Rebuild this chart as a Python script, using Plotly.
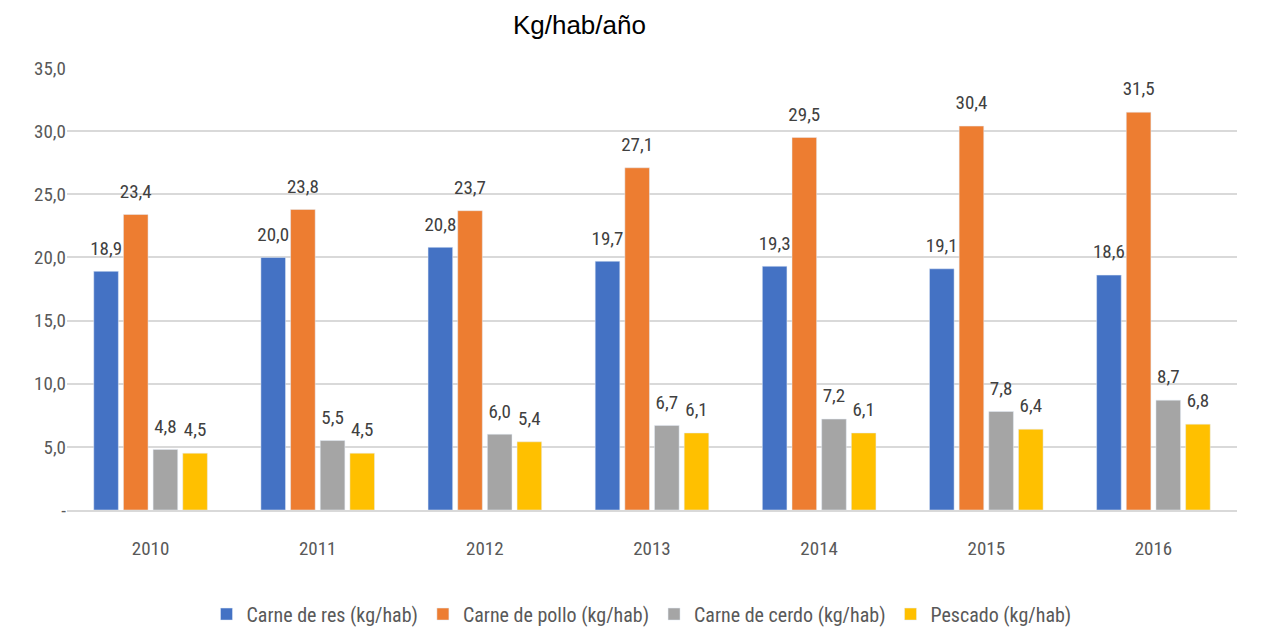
import plotly.graph_objects as go

years = ["2010", "2011", "2012", "2013", "2014", "2015", "2016"]
res = [18.9, 20.0, 20.8, 19.7, 19.3, 19.1, 18.6]
pollo = [23.4, 23.8, 23.7, 27.1, 29.5, 30.4, 31.5]
cerdo = [4.8, 5.5, 6.0, 6.7, 7.2, 7.8, 8.7]
pescado = [4.5, 4.5, 5.4, 6.1, 6.1, 6.4, 6.8]

series_names = ["Carne de res (kg/hab)", "Carne de pollo (kg/hab)",
                "Carne de cerdo (kg/hab)", "Pescado (kg/hab)"]
series_vals = [res, pollo, cerdo, pescado]
colors = ["#4472C4", "#ED7D31", "#A5A5A5", "#FFC000"]

tick_vals = [0, 5, 10, 15, 20, 25, 30, 35]
tick_text = ["-", "5,0", "10,0", "15,0", "20,0", "25,0", "30,0", "35,0"]

FONT = "Liberation Sans Narrow, Arial Narrow, Roboto Condensed, Roboto, sans-serif"

def fmt(v):
    return f"{v:.1f}".replace(".", ",")

fig = go.Figure()
for name, vals, col in zip(series_names, series_vals, colors):
    fig.add_trace(go.Bar(
        x=years, y=vals, name=name, marker_color=col,
        text=["<span style='font-size:19px'>" + fmt(v) + "</span><br> " for v in vals],
        textposition="outside", cliponaxis=False, constraintext="none",
        textfont=dict(family=FONT, size=9, color="#404040"),
    ))

fig.update_layout(
    width=1267, height=630,
    paper_bgcolor="white", plot_bgcolor="white",
    barmode="group", bargap=0.29, bargroupgap=0.17,
    margin=dict(l=59, r=38, t=60, b=128, autoexpand=False),
    title=dict(text="Kg/hab/año", x=0.451, xanchor="center", y=0.973, yanchor="middle",
               font=dict(family="Arial, Liberation Sans, sans-serif", size=26, color="#000000")),
    font=dict(family=FONT, color="#595959", size=18),
    showlegend=True,
    legend=dict(orientation="h", x=0.5, xanchor="center", xref="container",
                y=0.038, yanchor="middle", yref="container",
                font=dict(family=FONT, size=20, color="#595959"),
                itemwidth=30, traceorder="normal"),
)
fig.update_yaxes(range=[0, 35], tickvals=tick_vals, ticktext=tick_text,
                 showgrid=True, gridcolor="#D9D9D9", gridwidth=2,
                 zeroline=False, showline=False, ticks="", ticklen=0,
                 tickfont=dict(family=FONT, size=19, color="#595959"))
fig.update_xaxes(showline=True, linecolor="#D9D9D9", linewidth=2, ticks="",
                 ticklabelstandoff=20,
                 tickfont=dict(family=FONT, size=19, color="#595959"))

fig.write_html("out.html")
